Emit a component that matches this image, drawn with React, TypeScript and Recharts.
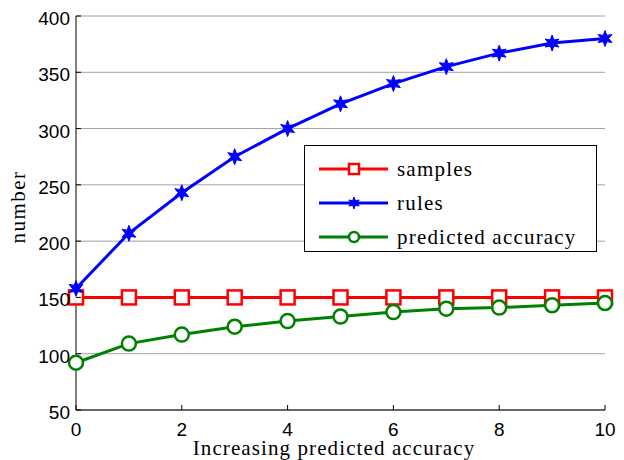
import React from 'react';
import { LineChart, Line, XAxis, YAxis, CartesianGrid, Legend, Label } from 'recharts';

const xValues = [0, 1, 2, 3, 4, 5, 6, 7, 8, 9, 10];
const samples = [150, 150, 150, 150, 150, 150, 150, 150, 150, 150, 150];
const rules = [158, 207, 243, 275, 300, 322, 340, 355, 367, 376, 380];
const predictedAccuracy = [92, 109, 117, 124, 129, 133, 137, 140, 141, 143, 145];
const xTicks = [0, 2, 4, 6, 8, 10];
const yTicks = [50, 100, 150, 200, 250, 300, 350, 400];

const data = xValues.map((x, i) => ({
  x,
  samples: samples[i],
  rules: rules[i],
  predicted: predictedAccuracy[i],
}));

const TICK_FONT = '"Liberation Sans", Arial, sans-serif';
const SERIF = '"Liberation Serif", "Times New Roman", serif';

const Square = ({ cx, cy, color, size = 7 }: any) => (
  <rect x={cx - size} y={cy - size} width={size * 2} height={size * 2} fill="#fff" stroke={color} strokeWidth={2.5} />
);

const Circle = ({ cx, cy, color, size = 7 }: any) => (
  <circle cx={cx} cy={cy} r={size} fill="#fff" stroke={color} strokeWidth={2.5} />
);

const Star = ({ cx, cy, color, size = 8 }: any) => {
  const pts: string[] = [];
  for (let i = 0; i < 12; i++) {
    const r = i % 2 === 0 ? size : size * 0.45;
    const a = (Math.PI / 6) * i - Math.PI / 2;
    pts.push(`${cx + r * Math.cos(a)},${cy + r * Math.sin(a)}`);
  }
  return <polygon points={pts.join(' ')} fill={color} stroke={color} strokeWidth={1} />;
};

const series = [
  { key: 'samples', name: 'samples', color: '#ff0000', Marker: Square, legendSize: 5 },
  { key: 'rules', name: 'rules', color: '#0000ff', Marker: Star, legendSize: 6 },
  { key: 'predicted', name: 'predicted accuracy', color: '#008000', Marker: Circle, legendSize: 5 },
];

const BottomTick = ({ x, y, payload }: any) => (
  <g>
    <line x1={x} x2={x} y1={y - 8} y2={y - 13} stroke="#000" />
    <text x={x} y={y + 18} textAnchor="middle" fontFamily={TICK_FONT} fontSize={19} fill="#000">
      {payload.value}
    </text>
  </g>
);

const LeftTick = ({ x, y, payload }: any) => (
  <g>
    <line x1={x + 8} x2={x + 13} y1={y} y2={y} stroke="#000" />
    <text x={x + 2} y={y + 9} textAnchor="end" fontFamily={TICK_FONT} fontSize={19} fill="#000">
      {payload.value}
    </text>
  </g>
);

const TopTick = ({ x, y }: any) => <line x1={x} x2={x} y1={y} y2={y + 5} stroke="#000" />;
const RightTick = ({ x, y }: any) => <line x1={x} x2={x - 5} y1={y} y2={y} stroke="#000" />;

const YTitle = () => (
  <text x={25} y={207} transform="rotate(-90, 25, 207)" textAnchor="middle"
    fontFamily={SERIF} fontSize={21} letterSpacing={1.5} fill="#000">
    number
  </text>
);

const XTitle = () => (
  <text x={334} y={455} textAnchor="middle" fontFamily={SERIF} fontSize={21} letterSpacing={1.1} fill="#000">
    Increasing predicted accuracy
  </text>
);

const LegendBox = () => (
  <div style={{ border: '1px solid #000', background: '#fff', paddingTop: 6, boxSizing: 'border-box', height: '100%' }}>
    {series.map((s) => (
      <div key={s.key} style={{ display: 'flex', alignItems: 'center', height: 34 }}>
        <svg width={79} height={20} style={{ marginLeft: 13 }}>
          <line x1={1} x2={70} y1={10} y2={10} stroke={s.color} strokeWidth={3} />
          <s.Marker cx={36} cy={10} color={s.color} size={s.legendSize} />
        </svg>
        <span style={{ fontFamily: SERIF, fontSize: 21, letterSpacing: 1.2, color: '#000' }}>{s.name}</span>
      </div>
    ))}
  </div>
);

export default function App() {
  return (
    <div style={{ position: 'absolute', left: 0, top: 0, width: 624, height: 460, background: '#fff' }}>
      <LineChart width={624} height={460} data={data} margin={{ top: 16, right: 19, bottom: 0, left: 0 }}>
        <CartesianGrid vertical={false} stroke="#a0a0a0" strokeWidth={1} />
        <XAxis dataKey="x" type="number" domain={[0, 10]} ticks={xTicks} height={50} tickSize={0} tickMargin={8}
          tickLine={false} stroke="#000" tick={<BottomTick />} interval={0}>
          <Label content={<XTitle />} />
        </XAxis>
        <XAxis xAxisId="top" orientation="top" type="number" domain={[0, 10]} ticks={xTicks} height={0}
          tickSize={0} tickMargin={0} tickLine={false} stroke="#000" tick={<TopTick />} interval={0} />
        <YAxis type="number" domain={[50, 400]} ticks={yTicks} width={76} tickSize={0} tickMargin={8}
          tickLine={false} stroke="#000" tick={<LeftTick />} interval={0}>
          <Label content={<YTitle />} />
        </YAxis>
        <YAxis yAxisId="right" orientation="right" type="number" domain={[50, 400]} ticks={yTicks} width={0}
          tickSize={0} tickMargin={0} tickLine={false} stroke="#000" tick={<RightTick />} interval={0} />
        <Legend layout="vertical" align="center" verticalAlign="middle" content={<LegendBox />}
          wrapperStyle={{ left: 304, top: 145, width: 293, height: 107 }} />
        {series.map((s) => (
          <Line key={s.key} dataKey={s.key} name={s.name} stroke={s.color} strokeWidth={3}
            isAnimationActive={false} activeDot={false}
            dot={(p: any) => <s.Marker key={`${s.key}-${p.index}`} cx={p.cx} cy={p.cy} color={s.color} />} />
        ))}
      </LineChart>
    </div>
  );
}
